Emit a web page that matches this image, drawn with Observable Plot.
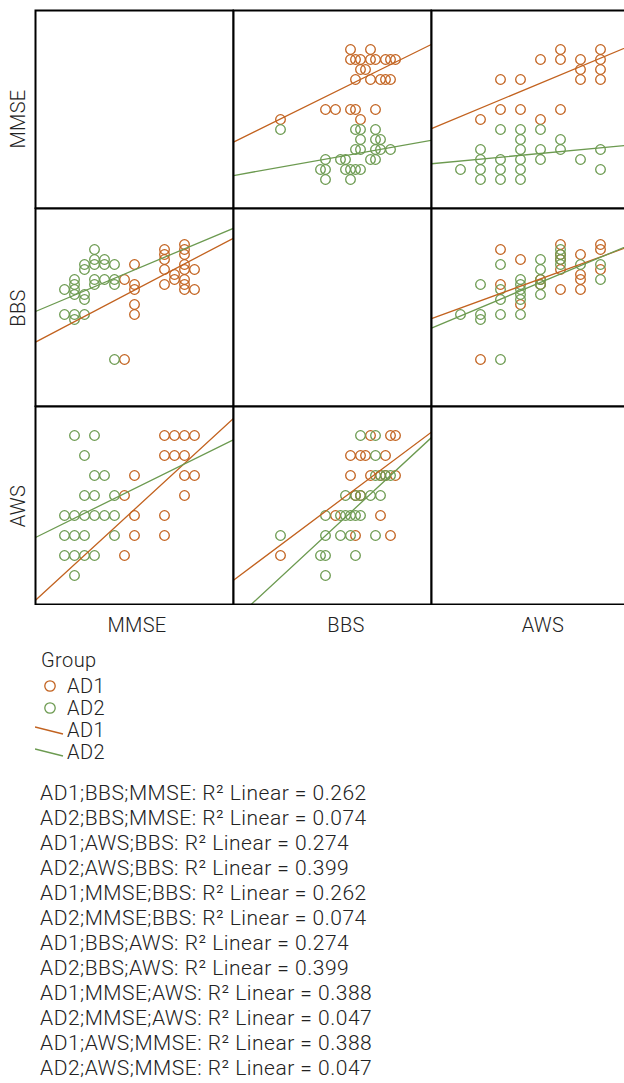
<!DOCTYPE html>
<html>
<head>
<meta charset="utf-8">
<script src="https://cdn.jsdelivr.net/npm/d3@7"></script>
<script src="https://cdn.jsdelivr.net/npm/@observablehq/plot@0.6"></script>
<style>
  body { margin:0; width:624px; height:1083px; overflow:hidden; position:relative; background:#fff;
         font-family: Roboto, "Noto Sans", sans-serif; font-weight:300; color:#222; }
  .cell { position:absolute; }
  .rowlab { position:absolute; left:0; width:36px; height:120px; font-size:20px; letter-spacing:0.3px; display:flex; align-items:center; justify-content:center; }
  .rowlab span { transform: rotate(-90deg); white-space:nowrap; display:inline-block; }
  .collab { position:absolute; top:613px; width:120px; text-align:center; font-size:20px; letter-spacing:0.3px; }
  #legend { position:absolute; left:41px; top:648px; font-size:20px; letter-spacing:0.4px; }
  #legend .item { display:flex; align-items:center; height:22px; }
  #r2 { position:absolute; left:40px; top:781px; font-size:21px; letter-spacing:0.5px; line-height:25px; white-space:nowrap; }
</style>
</head>
<body>
<div id="matrix"></div>
<div id="legend"></div>
<div id="r2"></div>
<script>
// ---------- data ----------
const variables = ["MMSE", "BBS", "AWS"];
const groups = ["AD1", "AD2"];

// pairs [MMSE, BBS]
const ad1_MMSE_BBS = [[24,46],[24,50],[23,46],[23,47],[23,48],[23,50],[23,51],[23,53],[23,54],[23,55],
  [22,48],[22,49],[21,47],[21,50],[21,52],[21,53],[21,54],[18,41],[18,43],[18,46],[18,47],[18,51],[17,32],[17,48]];
const ad2_MMSE_BBS = [[16,32],[16,47],[16,48],[16,51],[15,48],[15,51],[15,52],[14,47],[14,48],[14,51],[14,52],[14,54],
  [13,41],[13,44],[13,45],[13,50],[13,51],[12,40],[12,41],[12,45],[12,46],[12,47],[12,48],[11,41],[11,46]];
// pairs [MMSE, AWS]
const ad1_MMSE_AWS = [[21,8],[22,8],[23,8],[24,8],[21,7],[22,7],[23,7],[18,6],[23,6],[24,6],[17,5],[23,5],
  [18,4],[21,4],[18,3],[21,3],[17,2]];
const ad2_MMSE_AWS = [[12,8],[14,8],[13,7],[14,6],[15,6],[13,5],[14,5],[16,5],[11,4],[12,4],[13,4],[14,4],[15,4],[16,4],
  [11,3],[12,3],[13,3],[16,3],[11,2],[12,2],[13,2],[14,2],[12,1]];
// pairs [BBS, AWS]
const ad1_BBS_AWS = [[32,2],[47,3],[54,3],[43,4],[52,4],[47,5],[48,5],[46,6],[50,6],[52,6],[53,6],[55,6],
  [46,7],[48,7],[49,7],[53,7],[50,8],[54,8],[55,8]];
const ad2_BBS_AWS = [[41,1],[40,2],[41,2],[47,2],[32,3],[41,3],[44,3],[46,3],[51,3],[41,4],[44,4],[45,4],[46,4],[47,4],[48,4],
  [45,5],[47,5],[48,5],[50,5],[52,5],[51,6],[52,6],[53,6],[54,6],[51,7],[48,8],[51,8]];

// fitted lines: y = intercept + slope * x
const fitY =         ["MMSE","MMSE","BBS","BBS","MMSE","MMSE","BBS","BBS","AWS","AWS","AWS","AWS"];
const fitX =         ["BBS","BBS","MMSE","MMSE","AWS","AWS","AWS","AWS","MMSE","MMSE","BBS","BBS"];
const fitGroup =     ["AD1","AD2","AD1","AD2","AD1","AD2","AD1","AD2","AD1","AD2","AD1","AD2"];
const fitIntercept = [9.15, 9.39, 26.95, 34.79, 16.46, 12.66, 40.82, 39.04, -3.955, 0.9, -3.46, -6.495];
const fitSlope =     [0.247, 0.0888, 1.051, 0.841, 0.834, 0.189, 1.461, 1.676, 0.459, 0.247, 0.187, 0.2314];

// R² annotation lines
const r2Labels = ["AD1;BBS;MMSE","AD2;BBS;MMSE","AD1;AWS;BBS","AD2;AWS;BBS","AD1;MMSE;BBS","AD2;MMSE;BBS",
  "AD1;BBS;AWS","AD2;BBS;AWS","AD1;MMSE;AWS","AD2;MMSE;AWS","AD1;AWS;MMSE","AD2;AWS;MMSE"];
const r2Values = ["0.262","0.074","0.274","0.399","0.262","0.074","0.274","0.399","0.388","0.047","0.388","0.047"];

// ---------- presentation ----------
const domains = {MMSE: [8.1, 27.9], BBS: [22.6, 62.2], AWS: [-0.45, 9.45]};
const colors = {AD1: "#c2621f", AD2: "#6c9a50"};
const rowLabelCenters = [119, 308, 506];
const colLabelCenters = [137, 346, 543];
const pairData = {
  "MMSE|BBS": {AD1: ad1_MMSE_BBS, AD2: ad2_MMSE_BBS},
  "MMSE|AWS": {AD1: ad1_MMSE_AWS, AD2: ad2_MMSE_AWS},
  "BBS|AWS":  {AD1: ad1_BBS_AWS,  AD2: ad2_BBS_AWS}
};
function points(xVar, yVar, g) {
  if (pairData[xVar + "|" + yVar]) return pairData[xVar + "|" + yVar][g].map(([a, b]) => ({x: a, y: b}));
  return pairData[yVar + "|" + xVar][g].map(([a, b]) => ({x: b, y: a}));
}
function fitLine(xVar, yVar, g) {
  const i = fitY.findIndex((v, k) => v === yVar && fitX[k] === xVar && fitGroup[k] === g);
  return domains[xVar].map(x => ({x, y: fitIntercept[i] + fitSlope[i] * x}));
}

const CELL = 198, LEFT = 35, TOP = 10;
const matrix = document.getElementById("matrix");
variables.forEach((yVar, r) => {
  variables.forEach((xVar, c) => {
    const marks = [];
    if (xVar !== yVar) {
      for (const g of groups) marks.push(Plot.dot(points(xVar, yVar, g), {x: "x", y: "y", r: 4.8, stroke: colors[g], strokeWidth: 1.3, fill: "none"}));
      for (const g of groups) marks.push(Plot.line(fitLine(xVar, yVar, g), {x: "x", y: "y", stroke: colors[g], strokeWidth: 1.3, clip: true}));
    }
    marks.push(Plot.frame({stroke: "#000", strokeWidth: 2}));
    const svg = Plot.plot({
      width: CELL + 2, height: CELL + 2, margin: 1,
      x: {domain: domains[xVar], axis: null},
      y: {domain: domains[yVar], axis: null},
      style: {background: "transparent"},
      marks
    });
    svg.classList.add("cell");
    svg.style.left = (LEFT - 1 + c * CELL) + "px";
    svg.style.top = (TOP - 1 + r * CELL) + "px";
    matrix.appendChild(svg);
  });
  const lab = document.createElement("div");
  lab.className = "rowlab";
  lab.style.top = (rowLabelCenters[r] - 60) + "px";
  lab.innerHTML = "<span>" + yVar + "</span>";
  matrix.appendChild(lab);
});
variables.forEach((v, c) => {
  const lab = document.createElement("div");
  lab.className = "collab";
  lab.style.left = (colLabelCenters[c] - 60) + "px";
  lab.textContent = v;
  matrix.appendChild(lab);
});

// legend
const legend = d3.select("#legend");
legend.append("div").text("Group").style("height", "27px");
for (const g of groups) {
  const it = legend.append("div").attr("class", "item");
  const s = it.append("svg").attr("width", 26).attr("height", 22);
  s.append("circle").attr("cx", 9).attr("cy", 11).attr("r", 5.2).attr("fill", "none").attr("stroke", colors[g]).attr("stroke-width", 1.3);
  it.append("span").text(g);
}
for (const g of groups) {
  const it = legend.append("div").attr("class", "item").style("margin-left", "-6px");
  const s = it.append("svg").attr("width", 32).attr("height", 22);
  s.append("line").attr("x1", 0).attr("y1", 8).attr("x2", 28).attr("y2", 15).attr("stroke", colors[g]).attr("stroke-width", 1.3);
  it.append("span").text(g);
}

// R² lines
const r2 = d3.select("#r2");
r2Labels.forEach((l, i) => r2.append("div").text(l + ": R\u00B2 Linear = " + r2Values[i]));
</script>
</body>
</html>
